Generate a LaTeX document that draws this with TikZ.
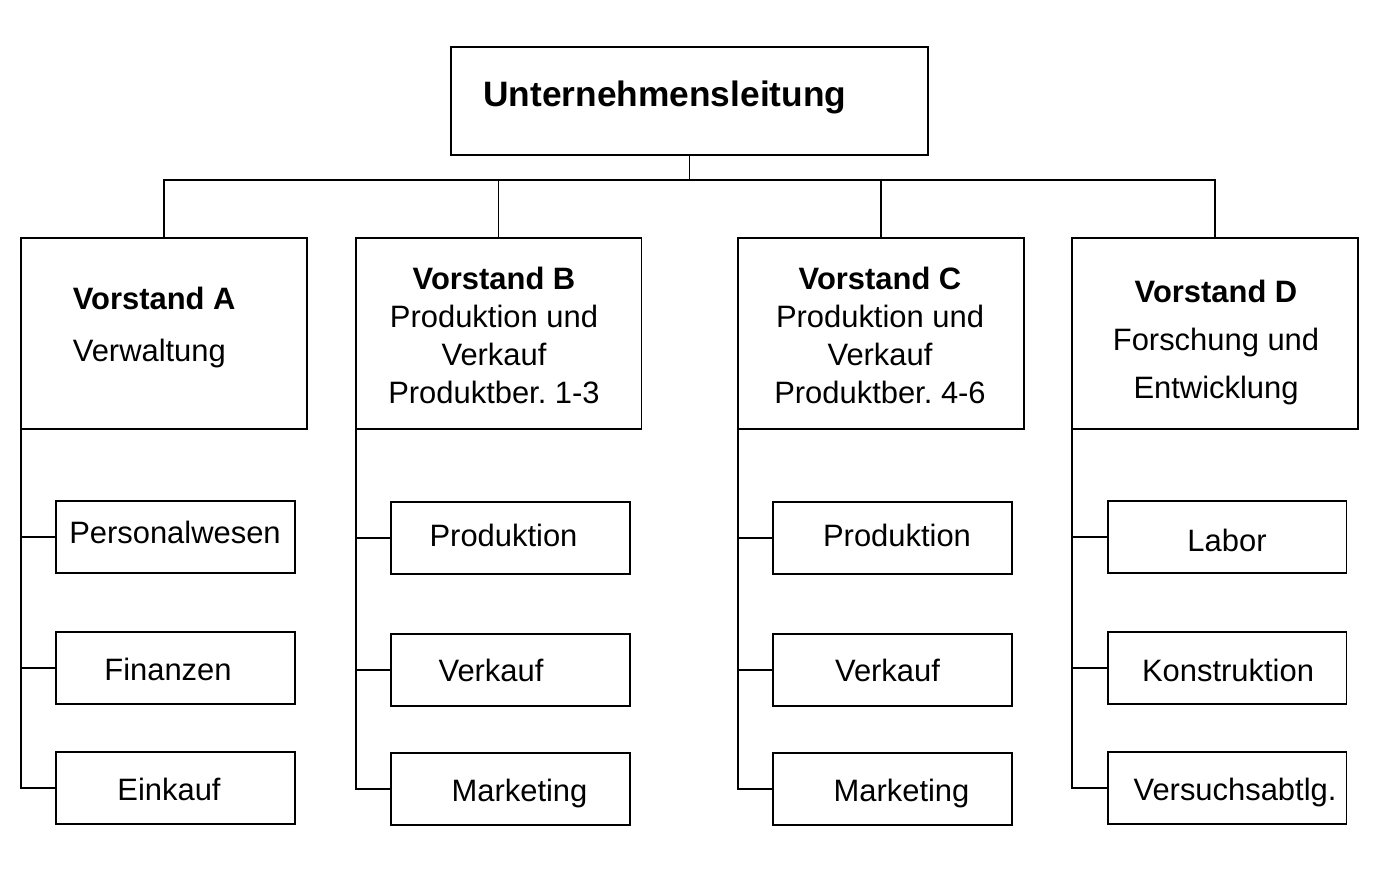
\documentclass[tikz,border=0pt]{standalone}
\usepackage{fontspec}
\setmainfont{Liberation Sans}
\frenchspacing
\tikzset{
  leitung/.style={draw, line width=1.2pt, minimum width=9.54cm, minimum height=2.16cm, inner sep=0pt, outer sep=0pt},
  vorstand/.style={draw, line width=1.1pt, minimum width=5.72cm, minimum height=3.82cm, inner sep=0pt, outer sep=0pt},
  abteilung/.style={draw, line width=1.1pt, minimum width=4.78cm, minimum height=1.44cm, inner sep=0pt, outer sep=0pt},
  schrift/.style={font=\fontsize{17.6}{21.7}\selectfont, inner sep=0pt, anchor=base},
  vtext/.style={font=\fontsize{17.6}{21.7}\selectfont, inner sep=0pt, anchor=north, align=center},
  strich/.style={line width=1.1pt},
}
\begin{document}
\begin{tikzpicture}[x=0.02cm,y=-0.02cm]
\useasboundingbox (0,0) rectangle (1381,868);

\node[leitung] (ul) at (689.5,101) {};
\node[anchor=base west, inner sep=0pt, font=\fontsize{20.1}{24}\selectfont\bfseries] (ul-t) at (483,106.5) {Unternehmensleitung};

\node[vorstand] (vA) at (164,333.5) {};
\node[vorstand] (vB) at (498.5,333.5) {};
\node[vorstand] (vC) at (881,333.5) {};
\node[vorstand] (vD) at (1215,333.5) {};

\node[vtext, anchor=north west, align=left, font=\fontsize{17.6}{29.6}\selectfont] (vA-t) at (72.5,286.5) {\textbf{Vorstand A}\\Verwaltung};
\node[vtext] (vB-t) at (494,266.5) {\textbf{Vorstand B}\\Produktion und\\Verkauf\\Produktber. 1-3};
\node[vtext] (vC-t) at (880,266.5) {\textbf{Vorstand C}\\Produktion und\\Verkauf\\Produktber. 4-6};
\node[vtext, font=\fontsize{17.6}{27.3}\selectfont] (vD-t) at (1216,280) {\textbf{Vorstand D}\\Forschung und\\Entwicklung};

\draw[strich] (ul.south) -- ++(0,26);
\draw[strich] (vA.north) -- ++(0,-58) -| (vD.north);
\draw[strich] (vB.north) -- ++(0,-58);
\draw[strich] (vC.north) -- ++(0,-58);

% Vorstand A
\node[abteilung] (persA) at (175.5,536.7) {};
\node[abteilung] (finA) at (175.5,668) {};
\node[abteilung] (einA) at (175.5,788) {};
\node[schrift] (persA-t) at (175,543) {Personalwesen};
\node[schrift] (finA-t) at (168,680.7) {Finanzen};
\node[schrift] (einA-t) at (169,800) {Einkauf};

% Vorstand B
\node[abteilung] (prodB) at (510.5,538) {};
\node[abteilung] (verkB) at (510.5,669.7) {};
\node[abteilung] (markB) at (510.5,789) {};
\node[schrift] (prodB-t) at (503.5,546.7) {Produktion};
\node[schrift] (verkB-t) at (491,681.7) {Verkauf};
\node[schrift] (markB-t) at (519.5,801.7) {Marketing};

% Vorstand C
\node[abteilung] (prodC) at (892.5,538) {};
\node[abteilung] (verkC) at (892.5,669.7) {};
\node[abteilung] (markC) at (892.5,789) {};
\node[schrift] (prodC-t) at (897,546.7) {Produktion};
\node[schrift] (verkC-t) at (887.5,681.7) {Verkauf};
\node[schrift] (markC-t) at (901.5,801.7) {Marketing};

% Vorstand D
\node[abteilung] (labD) at (1227,536.7) {};
\node[abteilung] (konD) at (1227,668) {};
\node[abteilung] (versD) at (1227,788) {};
\node[schrift] (labD-t) at (1227,551) {Labor};
\node[schrift] (konD-t) at (1228,681.7) {Konstruktion};
\node[schrift] (versD-t) at (1235,800.7) {Versuchsabtlg.};

\draw[strich] (vA.south west) |- (einA.west);
\draw[strich] (vB.south west) |- (markB.west);
\draw[strich] (vC.south west) |- (markC.west);
\draw[strich] (vD.south west) |- (versD.west);
\foreach \a/\v in {persA/vA,finA/vA,prodB/vB,verkB/vB,prodC/vC,verkC/vC,labD/vD,konD/vD}
         {
           \draw[strich] (\a.west) -- (\a.west -| \v.west);
         }

\end{tikzpicture}
\end{document}
